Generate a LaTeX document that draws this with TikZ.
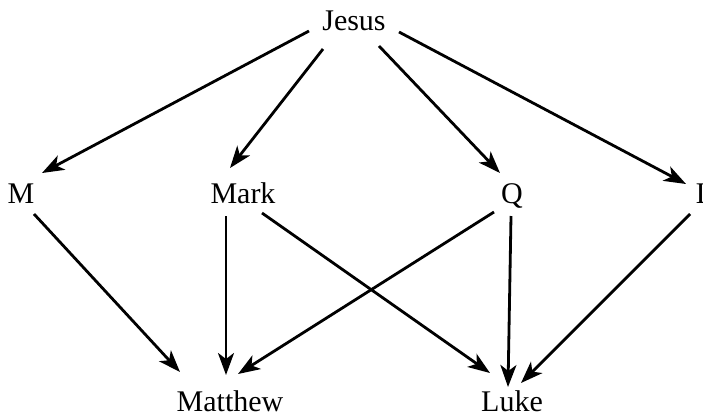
\documentclass[tikz,border=0pt]{standalone}
\usepackage{fontspec}
\setmainfont{Liberation Serif}
\usetikzlibrary{arrows.meta}
\begin{document}
\begin{tikzpicture}[x=1pt,y=-1pt,
  lbl/.style={anchor=base,inner sep=0pt,font=\fontsize{30}{32}\selectfont},
  arr/.style={line width=2.8pt,-{Stealth[length=22pt,width=16pt,inset=6pt]}}]
\useasboundingbox (0,0) rectangle (703,416);
\node[lbl] (jesus) at (354,30) {Jesus};
\node[lbl] (m) at (21,203) {M};
\node[lbl] (mark) at (243,203) {Mark};
\node[lbl] (q) at (512,203) {Q};
\node[lbl] (l) at (705,203) {L};
\node[lbl] (matthew) at (230,411) {Matthew};
\node[lbl] (luke) at (512,411) {Luke};
\draw[arr] ([shift={(-45,1)}]jesus.base) -- ([shift={(21,-30)}]m.base);
\draw[arr] ([shift={(-31,19)}]jesus.base) -- ([shift={(-13,-35)}]mark.base);
\draw[arr] ([shift={(25,16)}]jesus.base) -- ([shift={(-12,-30)}]q.base);
\draw[arr] ([shift={(45,2)}]jesus.base) -- ([shift={(-19,-19)}]l.base);
\draw[arr] ([shift={(13,11)}]m.base) -- ([shift={(-50,-39)}]matthew.base);
\draw[arr] ([shift={(-17,13)}]mark.base) -- ([shift={(-4,-36)}]matthew.base);
\draw[arr] ([shift={(19,10)}]mark.base) -- ([shift={(-22,-38)}]luke.base);
\draw[arr] ([shift={(-18,9)}]q.base) -- ([shift={(8,-37)}]matthew.base);
\draw[arr] ([shift={(-1,13)}]q.base) -- ([shift={(-4,-24)}]luke.base);
\draw[arr] ([shift={(-15,11)}]l.base) -- ([shift={(9,-28)}]luke.base);
\end{tikzpicture}
\end{document}
